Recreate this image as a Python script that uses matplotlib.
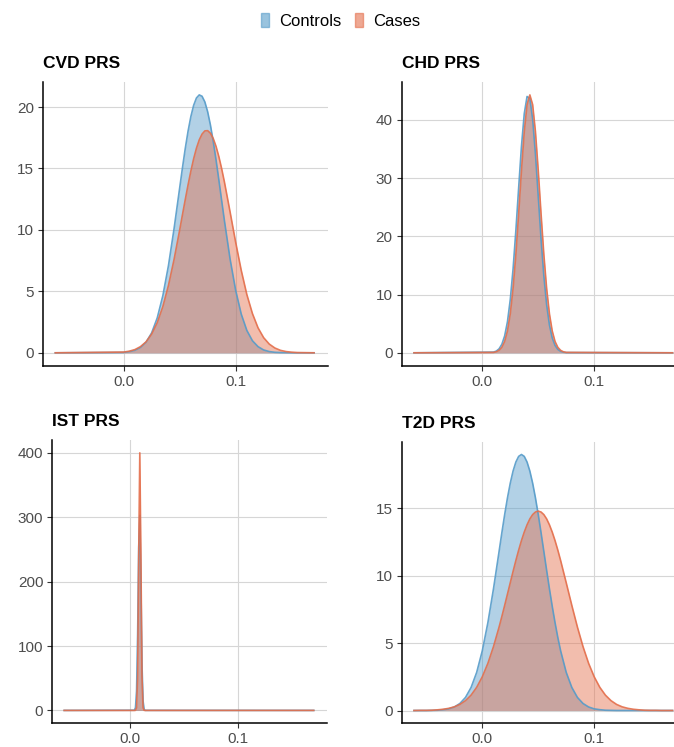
import numpy as np
import matplotlib
matplotlib.use("Agg")
import matplotlib.pyplot as plt
from matplotlib.patches import Patch
from matplotlib.ticker import MultipleLocator

plt.rcParams["font.family"] = ["Liberation Sans", "DejaVu Sans"]

DPI = 100
WIDTH, HEIGHT = 674, 747

groups = ["Controls", "Cases"]
colors = ["#559bc9", "#e46e4b"]
titles = ["CVD PRS", "CHD PRS", "IST PRS", "T2D PRS"]

# density curves (x = score, y = density)
cvd_x = [-0.061, 0.000, 0.005, 0.010, 0.015, 0.020, 0.025, 0.030, 0.035, 0.040,
         0.045, 0.050, 0.0525, 0.055, 0.0575, 0.060, 0.0625, 0.065, 0.0675, 0.070,
         0.0725, 0.075, 0.0775, 0.080, 0.0825, 0.085, 0.0875, 0.090, 0.095, 0.100,
         0.105, 0.110, 0.115, 0.120, 0.125, 0.130, 0.135, 0.140, 0.145, 0.150,
         0.155, 0.170]
cvd_controls = [0.0, 0.03, 0.09, 0.20, 0.43, 0.86, 1.62, 2.84, 4.65, 7.09,
                10.09, 13.40, 15.05, 16.62, 18.03, 19.22, 20.14, 20.74, 20.99, 20.88,
                20.42, 19.62, 18.53, 17.20, 15.70, 14.07, 12.40, 10.74, 7.65, 5.09,
                3.15, 1.82, 0.98, 0.50, 0.23, 0.10, 0.04, 0.02, 0.01, 0.0,
                0.0, 0.0]
cvd_cases = [0.0, 0.06, 0.13, 0.26, 0.50, 0.89, 1.52, 2.45, 3.76, 5.48,
             7.59, 9.98, 11.23, 12.46, 13.66, 14.78, 15.79, 16.65, 17.33, 17.80,
             18.06, 18.08, 17.87, 17.44, 16.80, 15.97, 14.99, 13.89, 11.48, 9.00,
             6.71, 4.74, 3.19, 2.03, 1.23, 0.71, 0.39, 0.20, 0.10, 0.05,
             0.02, 0.0]

chd_x = [-0.061, 0.0100, 0.0125, 0.0150, 0.0175, 0.0200, 0.0225, 0.0250, 0.0275,
         0.0300, 0.0325, 0.0350, 0.0375, 0.0400, 0.0425, 0.0450, 0.0475, 0.0500,
         0.0525, 0.0550, 0.0575, 0.0600, 0.0625, 0.0650, 0.0675, 0.0700, 0.0725,
         0.0750, 0.170]
chd_controls = [0.0, 0.12, 0.29, 0.68, 1.47, 2.91, 5.35, 9.13, 14.38,
                20.99, 28.36, 35.47, 41.07, 44.03, 43.69, 40.13, 34.12, 26.87,
                19.58, 13.21, 8.26, 4.77, 2.55, 1.27, 0.58, 0.25, 0.10,
                0.04, 0.0]
chd_cases = [0.0, 0.07, 0.17, 0.42, 0.94, 1.95, 3.75, 6.69, 11.05,
             16.88, 23.90, 31.31, 37.97, 42.62, 44.30, 42.62, 37.97, 31.31,
             23.90, 16.88, 11.05, 6.69, 3.75, 1.95, 0.94, 0.42, 0.17,
             0.07, 0.0]

ist_x = [-0.061, 0.004, 0.005, 0.006, 0.007, 0.008, 0.009, 0.010, 0.011, 0.012,
         0.013, 0.014, 0.170]
ist_controls = [0.0, 0.3, 4.3, 30.0, 118.0, 254.0, 303.0, 200.0, 73.0, 15.0, 1.7, 0.1, 0.0]
ist_cases = [0.0, 0.0, 0.13, 4.4, 54.1, 242.6, 400.0, 242.6, 54.1, 4.4, 0.13, 0.0, 0.0]

t2d_x = [-0.061, -0.055, -0.050, -0.045, -0.040, -0.035, -0.030, -0.025, -0.020,
         -0.015, -0.010, -0.005, 0.000, 0.005, 0.010, 0.015,
         0.0175, 0.020, 0.0225, 0.025, 0.0275, 0.030, 0.0325, 0.035, 0.0375, 0.040,
         0.0425, 0.045, 0.0475, 0.050, 0.0525, 0.055, 0.0575, 0.060, 0.0625, 0.065,
         0.0675, 0.070,
         0.075, 0.080, 0.085, 0.090, 0.095, 0.100, 0.105, 0.110, 0.115, 0.120,
         0.125, 0.130, 0.135, 0.140, 0.145, 0.150, 0.155, 0.160, 0.170]
t2d_controls = [0.0, 0.00, 0.00, 0.01, 0.02, 0.06, 0.12, 0.26, 0.52,
                0.97, 1.71, 2.83, 4.43, 6.52, 9.03, 11.80,
                13.20, 14.54, 15.78, 16.87, 17.77, 18.44, 18.86, 19.00, 18.86, 18.44,
                17.77, 16.87, 15.78, 14.54, 13.20, 11.80, 10.40, 9.03, 7.73, 6.52,
                5.41, 4.43,
                2.83, 1.71, 0.97, 0.52, 0.26, 0.12, 0.06, 0.02, 0.01, 0.00,
                0.0, 0.0, 0.0, 0.0, 0.0, 0.0, 0.0, 0.0, 0.0]
t2d_cases = [0.0, 0.01, 0.01, 0.02, 0.05, 0.09, 0.16, 0.27, 0.45,
             0.73, 1.14, 1.72, 2.50, 3.50, 4.74, 6.19,
             6.98, 7.80, 8.64, 9.48, 10.32, 11.13, 11.90, 12.61, 13.24, 13.78,
             14.22, 14.54, 14.73, 14.80, 14.73, 14.54, 14.22, 13.78, 13.24, 12.61,
             11.90, 11.13,
             9.48, 7.80, 6.19, 4.74, 3.50, 2.50, 1.72, 1.14, 0.73, 0.45,
             0.27, 0.16, 0.09, 0.05, 0.02, 0.01, 0.01, 0.00, 0.0]

panels = [
    (cvd_x, cvd_controls, cvd_cases, 5),
    (chd_x, chd_controls, chd_cases, 10),
    (ist_x, ist_controls, ist_cases, 100),
    (t2d_x, t2d_controls, t2d_cases, 5),
]

# axes boxes in pixels: left, right, top, bottom
boxes = [
    (43, 327.5, 82, 365.7),
    (401.7, 686, 82, 365.7),
    (52.3, 326.7, 440, 723.3),
    (401.7, 686, 441.7, 723.3),
]

fig = plt.figure(figsize=(WIDTH / DPI, HEIGHT / DPI), dpi=DPI)

for (x, yc, yk, step), title, (l, r, t, b) in zip(panels, titles, boxes):
    ax = fig.add_axes([l / WIDTH, 1 - b / HEIGHT, (r - l) / WIDTH, (b - t) / HEIGHT])
    x = np.array(x)
    for y, c in zip([yc, yk], colors):
        ax.fill_between(x, y, 0, color=c, alpha=0.45, linewidth=0)
        ax.plot(x, y, color=c, lw=1.2, alpha=0.9, solid_joinstyle="round")
    ymax = max(max(yc), max(yk))
    ax.set_ylim(-0.05 * ymax, 1.05 * ymax)
    ax.set_xlim(-0.072, 0.182)
    ax.set_xticks([0.0, 0.1])
    ax.set_xticklabels(["0.0", "0.1"])
    ax.yaxis.set_major_locator(MultipleLocator(step))
    ax.grid(True, color="#d6d6d6", lw=0.8)
    ax.set_axisbelow(True)
    for s in ["top", "right"]:
        ax.spines[s].set_visible(False)
    for s in ["left", "bottom"]:
        ax.spines[s].set_linewidth(1.1)
        ax.spines[s].set_color("black")
    ax.tick_params(length=3.5, width=0.8, color="#333333", labelsize=11,
                   labelcolor="#4d4d4d", pad=3)
    ax.set_title(title, loc="left", fontweight="bold", fontsize=12.5, pad=10)

handles = [Patch(facecolor=c, edgecolor=c, alpha=0.6, label=g) for g, c in zip(groups, colors)]
fig.legend(handles=handles, loc="center", bbox_to_anchor=(0.505, 1 - 21 / HEIGHT),
           ncol=2, frameon=False, fontsize=12, handlelength=0.5, handleheight=0.9,
           handletextpad=0.6, columnspacing=0.8)

fig.savefig("out.png", dpi=DPI)
plt.close(fig)
